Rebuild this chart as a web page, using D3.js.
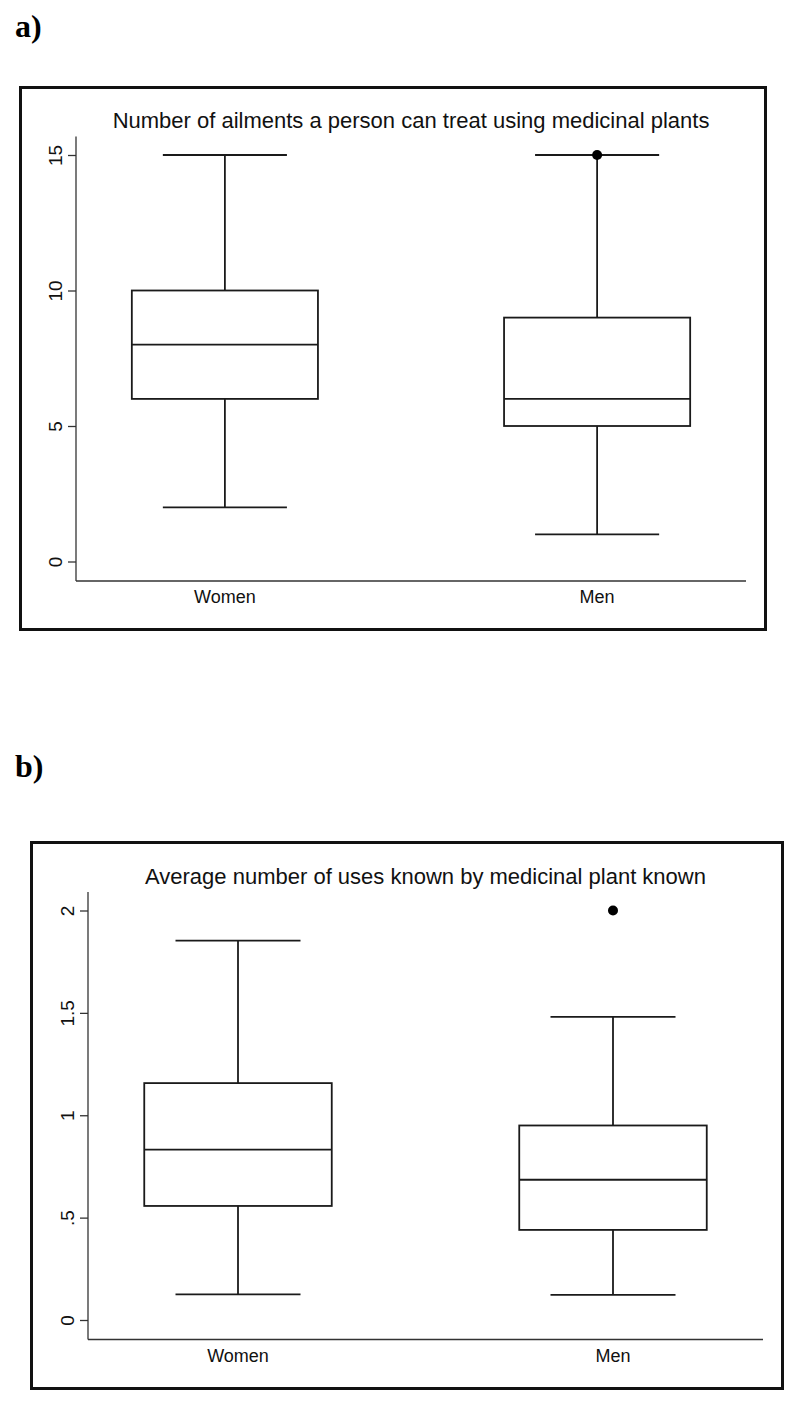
<!DOCTYPE html>
<html>
<head>
<meta charset="utf-8">
<script src="https://cdn.jsdelivr.net/npm/d3@7"></script>
<style>
  body { margin: 0; background: #fff; }
  svg { display: block; }
</style>
</head>
<body>
<svg id="chart" width="800" height="1405"></svg>
<script>
// data
const groups = ['Women', 'Men']

// a) ailments a person can treat
const ailMin = [2, 1]
const ailQ1 = [6, 5]
const ailMedian = [8, 6]
const ailQ3 = [10, 9]
const ailMax = [15, 15]
const ailOutliers = [[], [15]]
const ailTicks = [0, 5, 10, 15]
const ailTickLabels = ['0', '5', '10', '15']

// b) average uses per plant known
const useMin = [0.125, 0.123]
const useQ1 = [0.557, 0.44]
const useMedian = [0.832, 0.685]
const useQ3 = [1.157, 0.95]
const useMax = [1.853, 1.48]
const useOutliers = [[], [2]]
const useTicks = [0, 0.5, 1, 1.5, 2]
const useTickLabels = ['0', '.5', '1', '1.5', '2']

const svg = d3.select('#chart')
const sans = 'Liberation Sans, Arial, Helvetica, sans-serif'

const drawPanel = (p) => {
  // letter label
  svg.append('text')
    .attr('x', 15).attr('y', p.letterY)
    .attr('font-family', 'Liberation Serif, Times New Roman, serif')
    .attr('font-weight', 'bold')
    .attr('font-size', 32)
    .text(p.letter)

  // outer frame
  svg.append('rect')
    .attr('x', p.frame[0]).attr('y', p.frame[1])
    .attr('width', p.frame[2]).attr('height', p.frame[3])
    .attr('fill', 'none').attr('stroke', '#111').attr('stroke-width', 3)

  const x = d3.scalePoint()
    .domain(groups)
    .range([p.left, p.right])
    .padding(0.4)
  const step = x.step()

  const y = d3.scaleLinear()
    .domain(p.domain)
    .range([p.y0, p.y1])

  const axisTop = p.y1 - 18.5
  const axisBottom = p.y0 + 19.5

  const g = svg.append('g')

  // y axis
  const yAxis = d3.axisLeft(y)
    .tickValues(p.ticks)
    .tickFormat((d, i) => p.tickLabels[i])
    .tickSizeOuter(0)
    .tickSize(8)
  const ya = g.append('g')
    .attr('transform', `translate(${p.left},0)`)
    .call(yAxis)
  ya.select('.domain').remove()
  ya.selectAll('.tick line').attr('stroke', '#333').attr('stroke-width', 1.3)
  ya.selectAll('.tick text')
    .attr('font-family', sans)
    .attr('font-size', 19)
    .attr('fill', '#111')
    .attr('x', 0).attr('y', 0).attr('dy', 0)
    .attr('text-anchor', 'middle')
    .attr('transform', 'translate(-14,0) rotate(-90)')

  // axis lines
  g.append('line')
    .attr('x1', p.left).attr('x2', p.left)
    .attr('y1', axisTop).attr('y2', axisBottom)
    .attr('stroke', '#333').attr('stroke-width', 1.3)
  g.append('line')
    .attr('x1', p.left).attr('x2', p.right)
    .attr('y1', axisBottom).attr('y2', axisBottom)
    .attr('stroke', '#333').attr('stroke-width', 1.3)

  // category labels
  g.selectAll('.xlab')
    .data(groups)
    .join('text')
    .attr('class', 'xlab')
    .attr('x', d => x(d))
    .attr('y', axisBottom + 22)
    .attr('text-anchor', 'middle')
    .attr('font-family', sans)
    .attr('font-size', 18)
    .attr('fill', '#111')
    .text(d => d)

  // title
  g.append('text')
    .attr('x', (p.left + p.right) / 2)
    .attr('y', axisTop - 8.5)
    .attr('text-anchor', 'middle')
    .attr('font-family', sans)
    .attr('font-size', 22)
    .attr('fill', '#111')
    .text(p.title)

  // boxes
  const boxW = step * 0.5
  const capW = step / 3
  const stroke = '#1a1a1a'
  const sw = 1.8
  const box = g.selectAll('.box')
    .data(groups)
    .join('g')
    .attr('class', 'box')

  // whiskers
  box.append('line')
    .attr('x1', d => x(d)).attr('x2', d => x(d))
    .attr('y1', (d, i) => y(p.max[i])).attr('y2', (d, i) => y(p.q3[i]))
    .attr('stroke', stroke).attr('stroke-width', sw)
  box.append('line')
    .attr('x1', d => x(d)).attr('x2', d => x(d))
    .attr('y1', (d, i) => y(p.q1[i])).attr('y2', (d, i) => y(p.min[i]))
    .attr('stroke', stroke).attr('stroke-width', sw)
  // caps
  box.append('line')
    .attr('x1', d => x(d) - capW / 2).attr('x2', d => x(d) + capW / 2)
    .attr('y1', (d, i) => y(p.max[i])).attr('y2', (d, i) => y(p.max[i]))
    .attr('stroke', stroke).attr('stroke-width', sw)
  box.append('line')
    .attr('x1', d => x(d) - capW / 2).attr('x2', d => x(d) + capW / 2)
    .attr('y1', (d, i) => y(p.min[i])).attr('y2', (d, i) => y(p.min[i]))
    .attr('stroke', stroke).attr('stroke-width', sw)
  // box body
  box.append('rect')
    .attr('x', d => x(d) - boxW / 2)
    .attr('width', boxW)
    .attr('y', (d, i) => y(p.q3[i]))
    .attr('height', (d, i) => y(p.q1[i]) - y(p.q3[i]))
    .attr('fill', '#fff').attr('stroke', stroke).attr('stroke-width', sw)
  // median
  box.append('line')
    .attr('x1', d => x(d) - boxW / 2).attr('x2', d => x(d) + boxW / 2)
    .attr('y1', (d, i) => y(p.median[i])).attr('y2', (d, i) => y(p.median[i]))
    .attr('stroke', stroke).attr('stroke-width', sw)
  // outliers
  box.selectAll('circle')
    .data((d, i) => p.outliers[i].map(v => ({ g: d, v })))
    .join('circle')
    .attr('cx', d => x(d.g))
    .attr('cy', d => y(d.v))
    .attr('r', 5)
    .attr('fill', '#000')
}

drawPanel({
  letter: 'a)', letterY: 37,
  frame: [20.5, 87.5, 745, 542],
  left: 76, right: 746,
  domain: [0, 15], y0: 561.5, y1: 155,
  ticks: ailTicks, tickLabels: ailTickLabels,
  title: 'Number of ailments a person can treat using medicinal plants',
  min: ailMin, q1: ailQ1, median: ailMedian, q3: ailQ3, max: ailMax, outliers: ailOutliers
})

drawPanel({
  letter: 'b)', letterY: 777,
  frame: [31.5, 842.5, 751, 546],
  left: 88, right: 763,
  domain: [0, 2], y0: 1320, y1: 910.5,
  ticks: useTicks, tickLabels: useTickLabels,
  title: 'Average number of uses known by medicinal plant known',
  min: useMin, q1: useQ1, median: useMedian, q3: useQ3, max: useMax, outliers: useOutliers
})
</script>
</body>
</html>
